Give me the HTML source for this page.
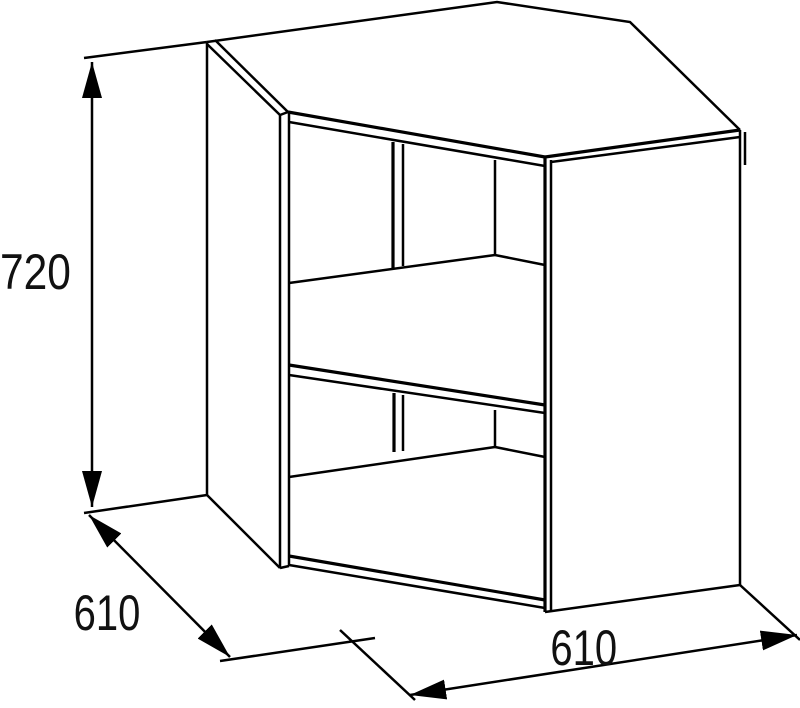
<!DOCTYPE html>
<html><head><meta charset="utf-8"><style>
html,body{margin:0;padding:0;background:#fff;}
svg{display:block;}
text{font-family:"Liberation Sans",sans-serif;fill:#111;}
</style></head><body>
<svg width="800" height="708" viewBox="0 0 800 708" xmlns="http://www.w3.org/2000/svg">
<defs>
<marker id="a" viewBox="0 0 36 20" refX="36" refY="10" markerWidth="36" markerHeight="20" markerUnits="userSpaceOnUse" orient="auto-start-reverse">
<path d="M0,0 L36,10 L0,20 z" fill="#000"/></marker>
</defs>
<g fill="none" stroke="#000" stroke-width="2.5" stroke-linejoin="miter">
<polyline points="207,42 497,2 630,22 740,130"/>
<line x1="215" y1="40" x2="288" y2="112"/>
<line x1="207" y1="44" x2="280" y2="115"/>
<line x1="280" y1="115" x2="288" y2="112"/>
<line x1="207" y1="42" x2="207" y2="495"/>
<line x1="207" y1="495" x2="280" y2="568"/>
<line x1="280" y1="115" x2="280" y2="568"/>
<line x1="289" y1="113" x2="289" y2="566"/>
<line x1="280" y1="568" x2="289" y2="566"/>
<line x1="288" y1="112" x2="545" y2="157" stroke-width="3.2"/>
<line x1="289" y1="122" x2="545" y2="166"/>
<line x1="545" y1="157" x2="545" y2="612" stroke-width="3.2"/>
<line x1="551" y1="160" x2="551" y2="612"/>
<line x1="545" y1="157" x2="740" y2="130" stroke-width="3.2"/>
<line x1="551" y1="162" x2="740" y2="137"/>
<line x1="740" y1="130" x2="740" y2="585"/>
<line x1="745" y1="132" x2="745" y2="165"/>
<line x1="545" y1="612" x2="740" y2="585"/>
<line x1="393" y1="142" x2="393" y2="268" stroke-width="3.2"/>
<line x1="403" y1="144" x2="403" y2="266"/>
<line x1="495" y1="160" x2="495" y2="256"/>
<polyline points="289,283 495,255 545,265"/>
<line x1="289" y1="365" x2="545" y2="405" stroke-width="3.2"/>
<line x1="289" y1="375" x2="545" y2="413"/>
<line x1="394" y1="393" x2="394" y2="452" stroke-width="3.2"/>
<line x1="403" y1="395" x2="403" y2="451"/>
<line x1="495" y1="410" x2="495" y2="447"/>
<line x1="495" y1="447" x2="545" y2="457"/>
<line x1="289" y1="477" x2="495" y2="447"/>
<line x1="289" y1="556" x2="545" y2="600" stroke-width="3.2"/>
<line x1="289" y1="565" x2="545" y2="608"/>
<line x1="84" y1="58" x2="207" y2="42"/>
<line x1="84" y1="513" x2="207" y2="495"/>
<line x1="220" y1="661" x2="375" y2="638"/>
<line x1="340" y1="630" x2="415" y2="700"/>
<line x1="740" y1="585" x2="800" y2="640"/>
<line x1="92" y1="62" x2="92" y2="507" marker-start="url(#a)" marker-end="url(#a)"/>
<line x1="89" y1="515" x2="230" y2="657" marker-start="url(#a)" marker-end="url(#a)"/>
<line x1="410" y1="695" x2="797" y2="635" marker-start="url(#a)" marker-end="url(#a)"/>
</g>
<text x="0" y="289" font-size="50" transform="scale(0.85,1)">720</text>
<text x="92" y="630" font-size="50" transform="scale(0.8,1)">610</text>
<text x="688" y="665" font-size="50" transform="scale(0.8,1)">610</text>
</svg>
</body></html>
